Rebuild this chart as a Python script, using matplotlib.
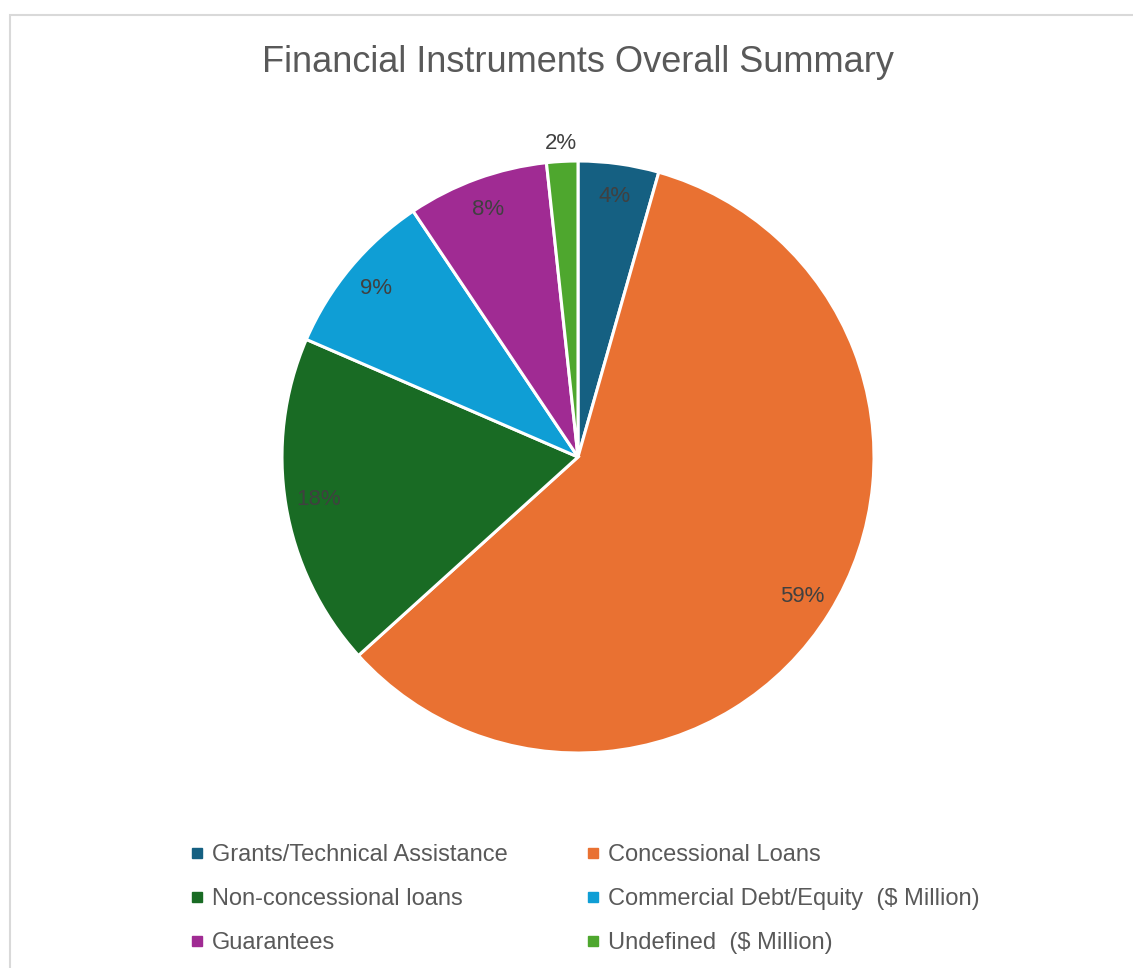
import numpy as np
import matplotlib
matplotlib.use("Agg")
import matplotlib.pyplot as plt
from matplotlib.lines import Line2D
from matplotlib.patches import Rectangle

# data (percent of total)
categories = ["Grants/Technical Assistance", "Concessional Loans",
              "Non-concessional loans", "Commercial Debt/Equity  ($ Million)",
              "Guarantees", "Undefined  ($ Million)"]
shares = [4.4, 58.9, 18.2, 9.1, 7.7, 1.7]
colors = ["#156082", "#E97132", "#196B24", "#0F9ED5", "#A02B93", "#4EA72E"]

plt.rcParams['font.family'] = ['Liberation Sans', 'DejaVu Sans']

W, H = 1133, 968
fig = plt.figure(figsize=(W / 100, H / 100), dpi=100)

# light chart border
fig.patches.append(Rectangle((9.5 / W, -0.01), 1.2, 1 - 15 / H + 0.01,
                             transform=fig.transFigure, fill=False,
                             edgecolor="#d9d9d9", linewidth=1.5))

# pie axes: center (578,457), radius 296 px
cx, cy, r = 578, 457, 296
ax = fig.add_axes([(cx - r) / W, (H - cy - r) / H, 2 * r / W, 2 * r / H])
wedges, _ = ax.pie(shares, colors=colors, startangle=90, counterclock=False,
                   radius=1, wedgeprops=dict(edgecolor="white", linewidth=2.2))
ax.set_xlim(-1, 1)
ax.set_ylim(-1, 1)
ax.set_aspect("equal")
ax.axis("off")

# data labels, the tiny slice outside
for w, s in zip(wedges, shares):
    ang = np.deg2rad((w.theta1 + w.theta2) / 2)
    d = 1.06 if s < 3 else 0.89
    ax.text(d * np.cos(ang), d * np.sin(ang), "%d%%" % round(s),
            ha="center", va="center", fontsize=16, color="#404040")

fig.text(578 / W, 1 - 63 / H, "Financial Instruments Overall Summary",
         ha="center", va="center", fontsize=26, color="#595959")

handles = [Line2D([], [], marker="s", linestyle="none", markersize=6.5,
                  markerfacecolor=c, markeredgecolor=c) for c in colors]
# order rows like the reference: fill row by row
order = [0, 2, 4, 1, 3, 5]
fig.legend([handles[i] for i in order], [categories[i] for i in order],
           ncol=2, loc="upper left", bbox_to_anchor=(191 / W, 1 - 844 / H),
           frameon=False, fontsize=17, labelcolor="#595959",
           handlelength=0.5, handletextpad=0.39, columnspacing=3.35,
           labelspacing=0.94, borderpad=0, borderaxespad=0)

fig.savefig("out.png", dpi=100)
